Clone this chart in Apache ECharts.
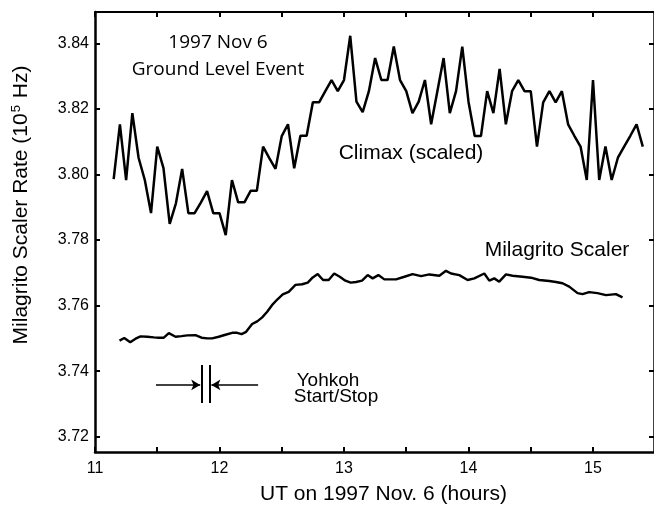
<!DOCTYPE html>
<html>
<head>
<meta charset="utf-8">
<script src="https://cdn.jsdelivr.net/npm/echarts@6/dist/echarts.min.js"></script>
<style>
  html, body { margin: 0; padding: 0; background: #fff; }
  #chart { width: 654px; height: 513px; }
</style>
</head>
<body>
<div id="chart"></div>
<script>
// Climax neutron monitor (scaled), 3-minute samples starting 11.15 UT
const climaxStart = 11.15;
const climaxStep = 0.05;
const climaxRate = [
  3.7986, 3.8153, 3.7983, 3.8187, 3.8051, 3.7983, 3.7882, 3.8085, 3.8019, 3.7849,
  3.7912, 3.8017, 3.7882, 3.7882, 3.7914, 3.7949, 3.7882, 3.7882, 3.7815, 3.7983,
  3.7915, 3.7915, 3.7950, 3.7950, 3.8085, 3.8050, 3.8017, 3.8117, 3.8153, 3.8019,
  3.8118, 3.8118, 3.8220, 3.8220, 3.8254, 3.8288, 3.8254, 3.8288, 3.8423, 3.8222,
  3.8190, 3.8254, 3.8355, 3.8288, 3.8288, 3.8390, 3.8288, 3.8254, 3.8187, 3.8222,
  3.8288, 3.8153, 3.8254, 3.8355, 3.8187, 3.8254, 3.8390, 3.8222, 3.8117, 3.8117,
  3.8254, 3.8187, 3.8322, 3.8153, 3.8254, 3.8288, 3.8254, 3.8254, 3.8085, 3.8220,
  3.8254, 3.8220, 3.8254, 3.8153, 3.8118, 3.8085, 3.7983, 3.8288, 3.7983, 3.8085,
  3.7983, 3.8051, 3.8085, 3.8118, 3.8153, 3.8085
];

// Milagrito scaler
const milagritoTime = [
  11.197, 11.235, 11.283, 11.326, 11.366, 11.420, 11.473, 11.513, 11.553, 11.593,
  11.647, 11.695, 11.741, 11.807, 11.856, 11.901, 11.941, 11.994, 12.048, 12.102,
  12.142, 12.177, 12.214, 12.262, 12.303, 12.343, 12.383, 12.423, 12.468, 12.508,
  12.556, 12.610, 12.664, 12.709, 12.749, 12.789, 12.832, 12.877, 12.921, 12.966,
  13.011, 13.054, 13.097, 13.145, 13.190, 13.230, 13.276, 13.324, 13.418, 13.485,
  13.551, 13.619, 13.685, 13.766, 13.819, 13.860, 13.926, 13.993, 14.047, 14.127,
  14.167, 14.207, 14.247, 14.301, 14.354, 14.434, 14.502, 14.568, 14.649, 14.702,
  14.755, 14.809, 14.876, 14.916, 14.969, 15.036, 15.104, 15.184, 15.237
];
const milagritoRate = [
  3.7493, 3.7501, 3.7488, 3.7499, 3.7506, 3.7505, 3.7503, 3.7502, 3.7502, 3.7516,
  3.7505, 3.7507, 3.7509, 3.7510, 3.7502, 3.7500, 3.7500, 3.7505, 3.7511, 3.7517,
  3.7517, 3.7513, 3.7520, 3.7544, 3.7552, 3.7564, 3.7581, 3.7602, 3.7620, 3.7634,
  3.7642, 3.7663, 3.7665, 3.7670, 3.7686, 3.7696, 3.7678, 3.7678, 3.7698, 3.7688,
  3.7676, 3.7670, 3.7672, 3.7676, 3.7693, 3.7683, 3.7693, 3.7680, 3.7680, 3.7688,
  3.7696, 3.7690, 3.7695, 3.7691, 3.7706, 3.7698, 3.7693, 3.7678, 3.7683, 3.7698,
  3.7676, 3.7683, 3.7673, 3.7695, 3.7691, 3.7688, 3.7685, 3.7678, 3.7675, 3.7672,
  3.7668, 3.7658, 3.7638, 3.7635, 3.7641, 3.7638, 3.7632, 3.7635, 3.7625
];

// Yohkoh start/stop marker
const yohkohStartStop = [11.86, 11.92];
const yohkohBarRange = [3.7303, 3.7419];
const yohkohArrowY = 3.7358;
const yohkohArrowTails = [11.49, 12.31];

// axes
const xTicks = [11, 11.5, 12, 12.5, 13, 13.5, 14, 14.5, 15];
const xLabels = [11, 12, 13, 14, 15];
const yTicks = [3.72, 3.74, 3.76, 3.78, 3.80, 3.82, 3.84];

const climaxData = climaxRate.map((v, i) => [climaxStart + climaxStep * i, v]);
const milagritoData = milagritoTime.map((t, i) => [t, milagritoRate[i]]);

const markerLines = [
  [{coord: [yohkohArrowTails[0], yohkohArrowY], symbol: 'none'},
   {coord: [yohkohStartStop[0] - 0.015, yohkohArrowY], symbol: 'arrow'}],
  [{coord: [yohkohArrowTails[1], yohkohArrowY], symbol: 'none'},
   {coord: [yohkohStartStop[1] + 0.015, yohkohArrowY], symbol: 'arrow'}],
  [{coord: [yohkohStartStop[0], yohkohBarRange[0]], symbol: 'none', lineStyle: {width: 2}},
   {coord: [yohkohStartStop[0], yohkohBarRange[1]], symbol: 'none'}],
  [{coord: [yohkohStartStop[1], yohkohBarRange[0]], symbol: 'none', lineStyle: {width: 2}},
   {coord: [yohkohStartStop[1], yohkohBarRange[1]], symbol: 'none'}]
];

const font = '"Liberation Sans", Arial, Helvetica, sans-serif';
const black = '#000';

function axisBase(extra) {
  return Object.assign({
    type: 'value',
    splitLine: {show: false},
    axisLine: {show: true, onZero: false, lineStyle: {color: black, width: 2.5}},
    axisTick: {show: true, inside: true, length: 5, lineStyle: {color: black, width: 2}},
    axisLabel: {show: false}
  }, extra);
}

const chart = echarts.init(document.getElementById('chart'), null, {renderer: 'canvas'});

chart.setOption({
  animation: false,
  backgroundColor: '#fff',
  grid: {left: 95, right: -1, top: 12, bottom: 61, containLabel: false},
  xAxis: [
    axisBase({
      position: 'bottom', min: 11, max: 15.49,
      axisTick: {show: true, inside: true, length: 5, customValues: xTicks, lineStyle: {color: black, width: 2}},
      axisLabel: {show: true, customValues: xLabels, color: black, fontFamily: font, fontSize: 16, margin: 9},
      name: 'UT on 1997 Nov. 6 (hours)', nameLocation: 'middle', nameGap: 32,
      nameTextStyle: {color: black, fontFamily: font, fontSize: 21, padding: [0, 0, 0, 18]}
    }),
    axisBase({
      position: 'top', min: 11, max: 15.49,
      axisLine: {show: true, onZero: false, lineStyle: {color: black, width: 2}},
      axisTick: {show: true, inside: true, length: 5, customValues: xTicks, lineStyle: {color: black, width: 2}}
    })
  ],
  yAxis: [
    axisBase({
      position: 'left', min: 3.71534, max: 3.84955,
      axisTick: {show: true, inside: true, length: 5, customValues: yTicks, lineStyle: {color: black, width: 2}},
      axisLabel: {show: true, customValues: yTicks, color: black, fontFamily: font, fontSize: 16, margin: 6,
        formatter: v => v.toFixed(2)},
      name: '{t|Milagrito Scaler Rate (10}{s|5}{t| Hz)}', nameLocation: 'middle', nameGap: 62, nameRotate: 90,
      nameTextStyle: {color: black, fontFamily: font, fontSize: 21, padding: [0, 0, 0, 54],
        rich: {
          t: {color: black, fontFamily: font, fontSize: 21},
          s: {color: black, fontFamily: font, fontSize: 13, padding: [0, 1, 10, 1]}
        }}
    }),
    axisBase({
      position: 'right', min: 3.71534, max: 3.84955,
      axisTick: {show: true, inside: true, length: 5, customValues: yTicks, lineStyle: {color: black, width: 2}}
    })
  ],
  series: [
    {
      name: 'Climax (scaled)', type: 'line', xAxisIndex: 0, yAxisIndex: 0,
      data: climaxData, showSymbol: false, symbol: 'none', silent: true,
      lineStyle: {color: black, width: 2.5}
    },
    {
      name: 'Milagrito Scaler', type: 'line', xAxisIndex: 0, yAxisIndex: 0,
      data: milagritoData, showSymbol: false, symbol: 'none', silent: true,
      lineStyle: {color: black, width: 2.4},
      markLine: {
        silent: true, animation: false, symbolSize: [8, 9],
        lineStyle: {color: black, width: 1.6, type: 'solid'},
        label: {show: false}, emphasis: {disabled: true},
        data: markerLines
      }
    }
  ],
  graphic: [
    {type: 'text', x: 218, y: 43, style: {text: '1997 Nov 6', fill: black, font: '19px "Open Sans", sans-serif', align: 'center', verticalAlign: 'middle'}},
    {type: 'text', x: 218, y: 70, style: {text: 'Ground Level Event', fill: black, font: '19px "Open Sans", sans-serif', align: 'center', verticalAlign: 'middle'}},
    {type: 'text', x: 411, y: 153, style: {text: 'Climax (scaled)', fill: black, font: '21px ' + font, align: 'center', verticalAlign: 'middle'}},
    {type: 'text', x: 557, y: 250, style: {text: 'Milagrito Scaler', fill: black, font: '21px ' + font, align: 'center', verticalAlign: 'middle'}},
    {type: 'text', x: 328, y: 381, style: {text: 'Yohkoh', fill: black, font: '19px ' + font, align: 'center', verticalAlign: 'middle'}},
    {type: 'text', x: 336, y: 397, style: {text: 'Start/Stop', fill: black, font: '19px ' + font, align: 'center', verticalAlign: 'middle'}}
  ]
});
</script>
</body>
</html>
